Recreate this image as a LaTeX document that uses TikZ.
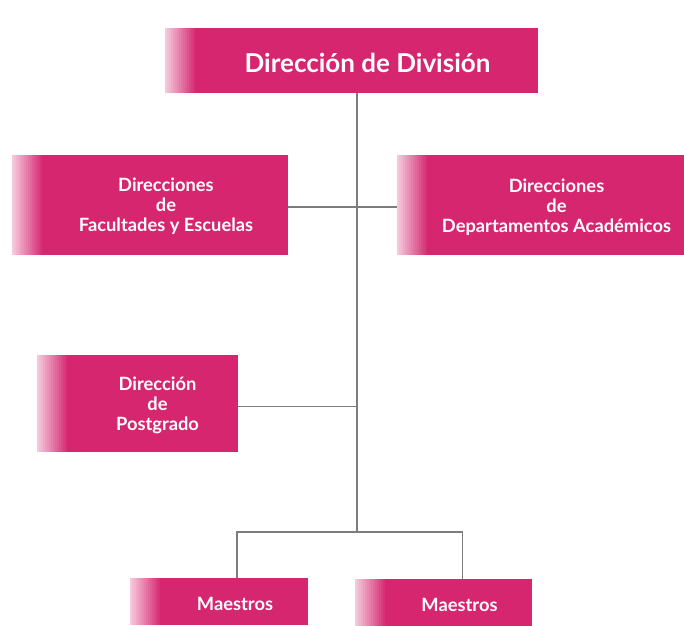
\documentclass[tikz,border=0pt]{standalone}
\usepackage{fontspec}
\setmainfont{Lato}
\usetikzlibrary{positioning}
\definecolor{rosa}{RGB}{214,38,112}
\definecolor{gris}{RGB}{125,125,125}

\begin{document}
\begin{tikzpicture}[x=1pt,y=-1pt,
  caja/.style={fill=rosa,inner sep=0pt,
    path picture={\foreach \i in {0,...,15}{
      \pgfmathtruncatemacro\tono{25+5*\i}
      \fill[rosa!\tono] ([xshift=2*\i pt]path picture bounding box.south west)
        rectangle ([xshift=2*\i pt+2.2pt]path picture bounding box.north west);}}},
  rotulo/.style={text=white,align=center,xshift=16pt,yshift=-2pt,
    font=\fontsize{18.3}{20}\selectfont\bfseries},
  linea/.style={draw=gris,line width=1.6pt}]
\useasboundingbox[fill=white] (0,0) rectangle (684,625);
% cajas
\node[caja,minimum width=373pt,minimum height=65pt,
  label={[rotulo,font=\fontsize{26}{30}\selectfont\bfseries]center:Dirección de División}] (top) at (351.5,60.5) {};
\node[caja,minimum width=276pt,minimum height=100pt,
  label={[rotulo]center:Direcciones\\de\\Facultades y Escuelas}] (fac) at (150,204.5) {};
\node[caja,minimum width=287pt,minimum height=100pt,
  label={[rotulo]center:Direcciones\\de\\Departamentos Académicos}] (dep) at (540.5,205) {};
\node[caja,minimum width=201pt,minimum height=97pt,
  label={[rotulo,xshift=4pt]center:Dirección\\de\\Postgrado}] (pos) at (137.5,403.5) {};
\node[caja,minimum width=178pt,minimum height=47pt,
  label={[rotulo]center:Maestros}] (m1) at (219,601.5) {};
\node[caja,minimum width=177pt,minimum height=47pt,
  label={[rotulo]center:Maestros}] (m2) at (443.5,602.5) {};
% lineas
\coordinate (j) at (357,532);
\draw[linea] ([yshift=-2pt]fac.east |- dep.west) -- ([yshift=-2pt]dep.west);
\draw[linea] (top.south -| j) -- (j);
\draw[linea] ([yshift=-3pt]pos.east) -- ([yshift=-3pt]pos.east -| j);
\draw[linea] ([xshift=18pt]m1.north) |- (j) -| ([xshift=19pt]m2.north);
\end{tikzpicture}
\end{document}
